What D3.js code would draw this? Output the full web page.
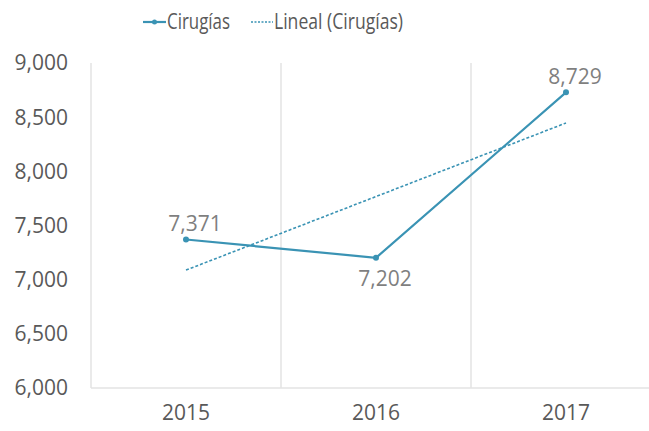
<!DOCTYPE html>
<html>
<head>
<meta charset="utf-8">
<script src="https://cdn.jsdelivr.net/npm/d3@7"></script>
<style>
  body { margin: 0; background: #fff; }
  svg text { font-family: "Open Sans", sans-serif; fill: #595959; }
</style>
</head>
<body>
<div id="chart"></div>
<script>
const years = ['2015', '2016', '2017'];
const cirugias = [7371, 7202, 8729];
const yTicks = [6000, 6500, 7000, 7500, 8000, 8500, 9000];

const width = 649, height = 431;
const lineColor = '#3a93b4';

const svg = d3.select('#chart').append('svg')
    .attr('width', width)
    .attr('height', height);

const x = d3.scaleBand()
    .domain(years)
    .range([91, 661]);

const y = d3.scaleLinear()
    .domain([6000, 9000])
    .range([388, 63]);

// vertical gridlines at category boundaries
const bounds = years.map(d => x(d)).concat([x.range()[1]]);
svg.selectAll('.vgrid')
    .data(bounds)
    .enter()
    .append('line')
    .attr('class', 'vgrid')
    .attr('x1', d => d).attr('x2', d => d)
    .attr('y1', y(9000)).attr('y2', y(6000))
    .attr('stroke', '#e3e3e3')
    .attr('stroke-width', 1.5);

// bottom axis line
svg.append('line')
    .attr('x1', x.range()[0]).attr('x2', x.range()[1])
    .attr('y1', y(6000)).attr('y2', y(6000))
    .attr('stroke', '#e3e3e3')
    .attr('stroke-width', 1.5);

// y labels
const fmt = d3.format(',');
svg.selectAll('.ylab')
    .data(yTicks)
    .enter()
    .append('text')
    .attr('class', 'ylab')
    .attr('x', 68)
    .attr('y', d => y(d))
    .attr('dy', '0.35em')
    .attr('text-anchor', 'end')
    .style('font-size', '21px')
    .text(fmt);

// x labels
svg.selectAll('.xlab')
    .data(years)
    .enter()
    .append('text')
    .attr('class', 'xlab')
    .attr('x', d => x(d) + x.bandwidth() / 2)
    .attr('y', 420)
    .attr('text-anchor', 'middle')
    .style('font-size', '21px')
    .text(d => d);

const cx = d => x(d) + x.bandwidth() / 2;
const pts = years.map((d, i) => ({ year: d, value: cirugias[i] }));

// linear trend (least squares)
const n = cirugias.length;
const xs = d3.range(1, n + 1);
const mx = d3.mean(xs), my = d3.mean(cirugias);
const slope = d3.sum(xs, (v, i) => (v - mx) * (cirugias[i] - my)) / d3.sum(xs, v => (v - mx) ** 2);
const trend = pts.map((p, i) => ({ year: p.year, value: my + slope * (xs[i] - mx) }));

const line = d3.line()
    .x(d => cx(d.year))
    .y(d => y(d.value));

svg.append('path')
    .datum(trend)
    .attr('d', line)
    .attr('fill', 'none')
    .attr('stroke', lineColor)
    .attr('stroke-width', 1.6)
    .attr('stroke-dasharray', '3,2');

svg.append('path')
    .datum(pts)
    .attr('d', line)
    .attr('fill', 'none')
    .attr('stroke', lineColor)
    .attr('stroke-width', 2.2);

svg.selectAll('.dot')
    .data(pts)
    .enter()
    .append('circle')
    .attr('class', 'dot')
    .attr('cx', d => cx(d.year))
    .attr('cy', d => y(d.value))
    .attr('r', 3)
    .attr('fill', lineColor);

// data labels: 2016 below, others above
svg.selectAll('.dlab')
    .data(pts)
    .enter()
    .append('text')
    .attr('class', 'dlab')
    .attr('x', d => cx(d.year) + 9)
    .attr('y', d => d.year === '2016' ? y(d.value) + 28 : y(d.value) - 8)
    .attr('text-anchor', 'middle')
    .style('font-size', '21px')
    .style('fill', '#7f7f7f')
    .text(d => fmt(d.value));

// legend
const legend = svg.append('g').attr('transform', 'translate(0,22)');
legend.append('line')
    .attr('x1', 143).attr('x2', 166).attr('y1', 0).attr('y2', 0)
    .attr('stroke', lineColor).attr('stroke-width', 2.2);
legend.append('circle')
    .attr('cx', 154.5).attr('cy', 0).attr('r', 2.5)
    .attr('fill', lineColor);
legend.append('text')
    .attr('x', 167).attr('y', 0).attr('dy', '0.35em')
    .attr('textLength', 63)
    .attr('lengthAdjust', 'spacingAndGlyphs')
    .style('font-size', '21px')
    .text('Cirugías');
legend.append('line')
    .attr('x1', 251).attr('x2', 273).attr('y1', 0).attr('y2', 0)
    .attr('stroke', lineColor).attr('stroke-width', 1.6)
    .attr('stroke-dasharray', '2,1.5');
legend.append('text')
    .attr('x', 274).attr('y', 0).attr('dy', '0.35em')
    .attr('textLength', 129)
    .attr('lengthAdjust', 'spacingAndGlyphs')
    .style('font-size', '21px')
    .text('Lineal (Cirugías)');
</script>
</body>
</html>
